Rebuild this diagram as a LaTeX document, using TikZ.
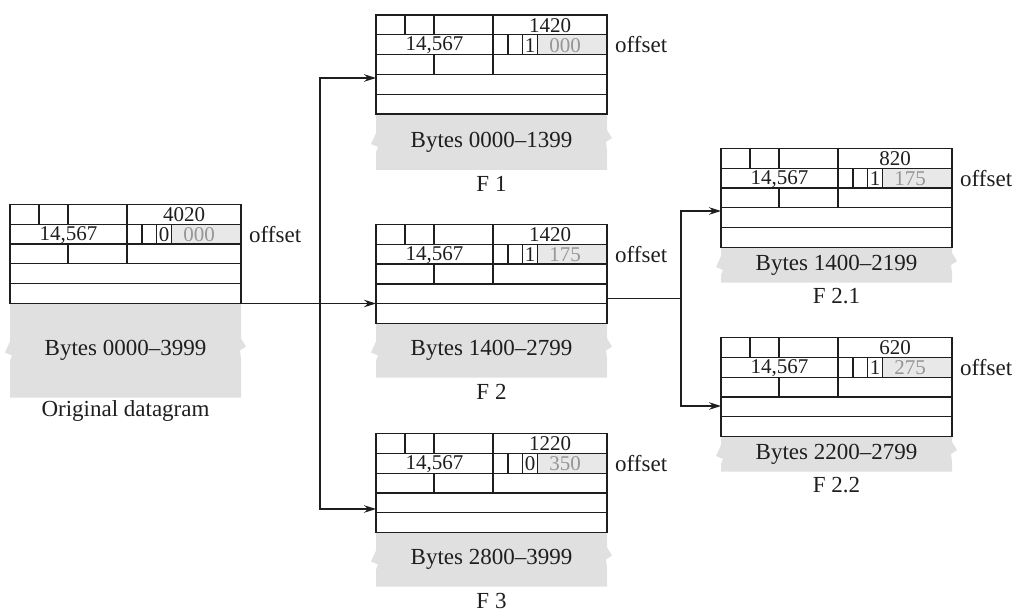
\documentclass[tikz,border=0pt]{standalone}
\usepackage{fontspec}
\setmainfont{Liberation Serif}
\usetikzlibrary{arrows.meta,calc}
\definecolor{paygray}{RGB}{224,224,224}
\definecolor{offgray}{RGB}{232,232,232}
\definecolor{offtxt}{RGB}{150,150,150}
\definecolor{ink}{RGB}{30,30,30}
\tikzset{
  x=1pt,y=-1pt,
  grid/.style={draw=ink,line width=1.2pt},
  hdr/.style={draw=ink,line width=1.3pt,minimum width=231pt,minimum height=99pt,anchor=north west,inner sep=0pt,outer sep=0pt},
  txt/.style={inner sep=0pt,text=ink,font=\fontsize{21}{24}\selectfont},
  big/.style={inner sep=0pt,text=ink,font=\fontsize{23}{26}\selectfont},
  offt/.style={inner sep=0pt,text=offtxt,font=\fontsize{21}{24}\selectfont},
  conn/.style={draw=ink,line width=1.3pt},
  arr/.style={conn,-{Stealth[length=12pt,width=7.5pt]}},
}
\newcommand\fragbox[9]{%
\begin{scope}[shift={(#2,#3)}]
  \fill[paygray] (0,99) -- (231,99) -- (231,{99+#7/2-12}) -- (236,{99+#7/2-4}) -- (230,{99+#7/2}) -- (231,{99+#7/2+8}) -- (231,{99+#7}) -- (0,{99+#7}) -- (0,{99+#7/2+10}) -- (2,{99+#7/2+5}) -- (-5,{99+#7/2+2}) -- (0,{99+#7/2-9}) -- cycle;
  \fill[offgray] (161.5,19.8) rectangle (231,39.6);
  \draw[grid] (0,19.8) -- (231,19.8) (0,39.6) -- (231,39.6) (0,59.4) -- (231,59.4) (0,79.2) -- (231,79.2);
  \draw[grid] (29,0) -- (29,19.8) (58,0) -- (58,19.8) (117,0) -- (117,19.8);
  \draw[grid] (117,19.8) -- (117,39.6) (132,19.8) -- (132,39.6) (146.5,19.8) -- (146.5,39.6) (161.5,19.8) -- (161.5,39.6);
  \draw[grid] (58,39.6) -- (58,59.4) (117,39.6) -- (117,59.4);
  \node[hdr] (#1) at (0,0) {};
  \node[txt] (#1-tot) at (174,10.5) {#4};
  \node[txt] (#1-id) at (58.5,30.3) {14,567};
  \node[txt] (#1-mf) at (154,30.3) {#5};
  \node[offt] (#1-off) at (189,30.3) {#6};
  \node[big,anchor=west] (#1-lbl) at (239,29.7) {offset};
  \node[big] (#1-bytes) at (115.5,{99+#7/2}) {Bytes #8};
  \node[big] (#1-name) at (115.5,{99+#7+14}) {#9};
\end{scope}}
\begin{document}
\begin{tikzpicture}
\useasboundingbox (0,0) rectangle (1014,612);
\fragbox{orig}{10}{204.5}{4020}{0}{000}{94}{0000–3999}{Original datagram}
\fragbox{f1}{376}{15}{1420}{1}{000}{56}{0000–1399}{F 1}
\fragbox{f2}{376}{224.5}{1420}{1}{175}{54}{1400–2799}{F 2}
\fragbox{f3}{376}{433.5}{1220}{0}{350}{54}{2800–3999}{F 3}
\fragbox{f21}{721}{148.5}{820}{1}{175}{35}{1400–2199}{F 2.1}
\fragbox{f22}{721}{337.5}{620}{1}{275}{35}{2200–2799}{F 2.2}
% junction points
\coordinate (j1) at (320,303.5);
\coordinate (f1in) at (376,78);
\coordinate (f3in) at (376,509);
\coordinate (f2out) at (607,298.5);
\coordinate (j2) at (681,298.5);
\coordinate (f21in) at (721,211);
\coordinate (f22in) at (721,406);
\draw[conn] (orig.south east) -- (j1);
\draw[arr] (j1) -- (j1 -| f2.west);
\draw[arr] (j1) |- (f1in);
\draw[arr] (j1) |- (f3in);
\draw[conn] (f2.east |- f2out) -- (j2);
\draw[arr] (j2) |- (f21in);
\draw[arr] (j2) |- (f22in);
\end{tikzpicture}
\end{document}
